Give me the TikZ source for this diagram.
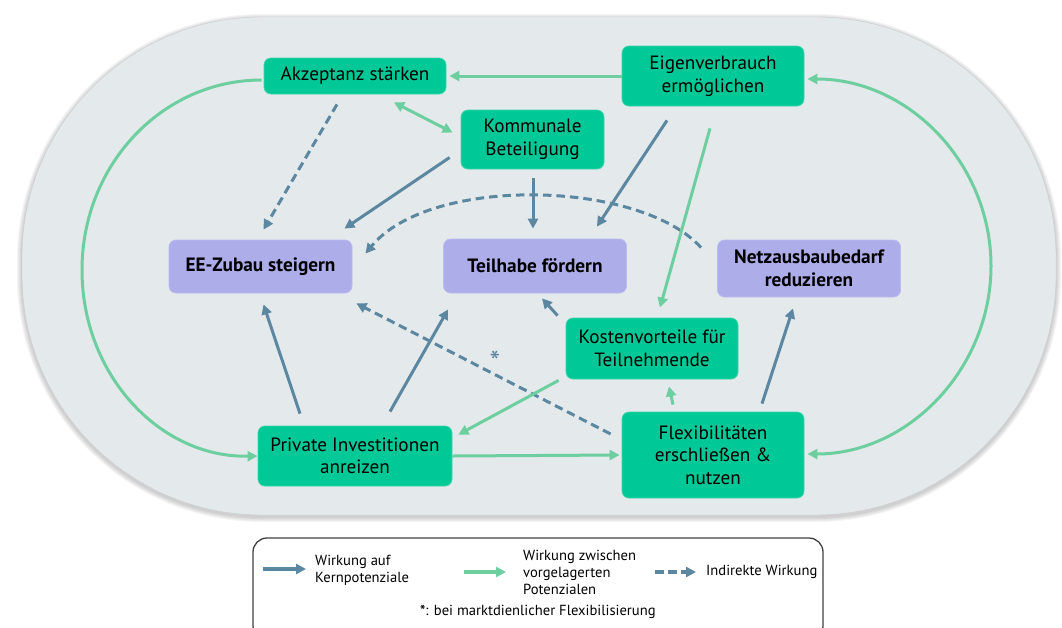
\documentclass[tikz,border=0pt]{standalone}
\usepackage{fontspec}
\setmainfont{PT Sans}
\usetikzlibrary{calc,arrows.meta}
\definecolor{bgc}{HTML}{E4E9EC}
\definecolor{ngreen}{HTML}{00C997}
\definecolor{ngreenb}{HTML}{3FD5AB}
\definecolor{npurple}{HTML}{ADADEA}
\definecolor{npurpleb}{HTML}{BCBCEF}
\definecolor{ablue}{HTML}{5B87A0}
\definecolor{agreen}{HTML}{6DCFA0}
\definecolor{legline}{HTML}{404040}
\begin{document}
\begin{tikzpicture}[x=1pt,y=-1pt,
  gnode/.style={rectangle, rounded corners=7pt, fill=ngreen, draw=ngreenb, line width=0.8pt,
    align=center, inner sep=0pt, font=\fontsize{19.2}{22.5}\selectfont},
  pnode/.style={rectangle, rounded corners=7pt, fill=npurple, draw=npurpleb, line width=0.8pt,
    align=center, inner sep=0pt, font=\fontsize{19.3}{22.5}\selectfont\bfseries},
  tip/.style={-{Triangle[length=10pt,width=10pt]}},
  barrow/.style={draw=ablue, line width=3pt, tip},
  garrow/.style={draw=agreen, line width=3pt, tip},
  gboth/.style={draw=agreen, line width=3pt, {Triangle[length=10pt,width=10pt]}-{Triangle[length=10pt,width=10pt]}},
  darrow/.style={draw=ablue, line width=3pt, dash pattern=on 8.5pt off 5pt, tip},
  legtext/.style={align=left, anchor=west, inner sep=0pt, font=\fontsize{14.6}{17}\selectfont}
]
\useasboundingbox (0,0) rectangle (1062,627);

% background stadium with soft shadow
\foreach \d in {5,4,3,2,1}{
  \fill[black, opacity=0.04, rounded corners=240+\d] (22-\d,17-\d+2) rectangle (1056+\d,515+\d+2);
}
\draw[fill=bgc, draw=gray!40, line width=0.4pt, rounded corners=240] (22,17) rectangle (1056,515);

% nodes
\node[gnode, minimum width=182pt, minimum height=36pt] (akz) at (355,76) {Akzeptanz stärken};
\node[gnode, minimum width=143pt, minimum height=59pt] (kom) at (532.5,139.5) {Kommunale\\Beteiligung};
\node[gnode, minimum width=182pt, minimum height=60pt] (eig) at (713,76) {Eigenverbrauch\\ermöglichen};
\node[pnode, minimum width=183pt, minimum height=53pt] (ee) at (260.5,266.5) {EE-Zubau steigern};
\node[pnode, minimum width=183pt, minimum height=54pt] (teil) at (535,266) {Teilhabe fördern};
\node[pnode, minimum width=183pt, minimum height=57pt] (netz) at (809,268.5) {Netzausbaubedarf\\reduzieren};
\node[gnode, minimum width=172pt, minimum height=61pt] (kost) at (652,348.5) {Kostenvorteile für\\Teilnehmende};
\node[gnode, minimum width=194pt, minimum height=60pt] (priv) at (355,456) {Private Investitionen\\anreizen};
\node[gnode, minimum width=182pt, minimum height=86pt] (flex) at (713,455) {Flexibilitäten\\erschließen \&\\nutzen};

% connectors
\draw[garrow] (eig.west) -- ($(akz.east)+(3,0)$);
\draw[gboth] ($(akz.south)+(39,8)$) -- ($(kom.west)+(-8,-7)$);
\draw[darrow] ($(akz.south)+(-18,10)$) -- ($(ee.north)+(3,-10)$);
\draw[barrow] ($(kom.west)+(-11,18)$) -- ($(ee.north east)+(-8,-11)$);
\draw[barrow] ($(kom.south)+(0.5,9)$) -- ($(teil.north)+(-2,-10)$);
\draw[darrow] ($(netz.north west)+(-16,8)$) .. controls (640,180) and (430,175) .. ($(ee.north east)+(13,14)$);
\draw[barrow] ($(eig.south)+(-46,14)$) -- ($(teil.north east)+(-30,-12)$);
\draw[garrow] ($(eig.south)+(-3,22)$) -- ($(kost.north)+(8,-10)$);
\draw[garrow] ($(akz.west)+(-2,4)$) .. controls (162,80) and (82,165) .. (82,270)
   .. controls (82,375) and (160,458) .. (priv.west);
\draw[gboth] ($(eig.east)+(3,3)$) .. controls (909,79) and (991,164) .. (991,266)
   .. controls (991,368) and (909,454) .. ($(flex.east)+(3,-1)$);
\draw[barrow] ($(priv.north)+(-55,-12)$) -- ($(ee.south)+(3,11)$);
\draw[barrow] ($(priv.north)+(35,-14)$) -- ($(teil.south west)+(5,16)$);
\draw[darrow] ($(flex.west)+(-11,-21)$) -- ($(ee.south east)+(4,10)$);
\draw[garrow] ($(kost.south west)+(-7,1)$) -- ($(priv.north east)+(6,9)$);
\draw[garrow] (priv.east) -- ($(flex.west)+(-2,0)$);
\draw[barrow] ($(kost.north west)+(-8,-2)$) -- ($(teil.south)+(7,5)$);
\draw[garrow] ($(flex.north)+(-40,-7)$) -- ($(kost.south)+(17,7)$);
\draw[barrow] ($(flex.north)+(49,-8)$) -- ($(netz.south)+(-16,11)$);
\node[text=ablue, inner sep=0pt, font=\fontsize{30}{30}\selectfont] (star) at (495,362) {*};

% legend
\draw[legline, line width=1.3pt, rounded corners=14pt] (253,538) rectangle (823,640);
\coordinate (l1a) at (263,569); \coordinate (l1b) at (306,569);
\coordinate (l2a) at (464,572); \coordinate (l2b) at (506,572);
\coordinate (l3a) at (655,572); \coordinate (l3b) at (696,572);
\draw[draw=ablue, line width=3.6pt, -{Triangle[length=10pt,width=10pt]}] (l1a) -- (l1b);
\draw[draw=agreen, line width=3.6pt, -{Triangle[length=10pt,width=10pt]}] (l2a) -- (l2b);
\draw[draw=ablue, line width=3.6pt, dash pattern=on 9pt off 4pt, -{Triangle[length=10pt,width=10pt]}] (l3a) -- (l3b);
\node[legtext] (lt1) at (315,570) {Wirkung auf\\Kernpotenziale};
\node[legtext] (lt2) at (523,572) {Wirkung zwischen\\vorgelagerten\\Potenzialen};
\node[legtext] (lt3) at (706,572) {Indirekte Wirkung};
\node[legtext] (lt4) at (420,612) {\raisebox{0.05em}{\bfseries\fontsize{14}{14}\selectfont *}: bei marktdienlicher Flexibilisierung};
\end{tikzpicture}
\end{document}
